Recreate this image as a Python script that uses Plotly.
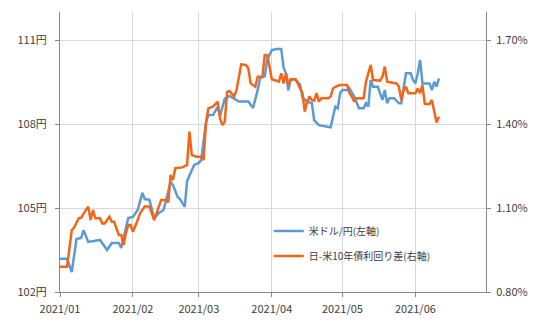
import plotly.graph_objects as go

usd_dates = ["2021-01-01","2021-01-04","2021-01-06","2021-01-08","2021-01-10","2021-01-11","2021-01-13","2021-01-18","2021-01-21","2021-01-23",
             "2021-01-26","2021-01-27","2021-01-30","2021-02-01","2021-02-03","2021-02-05","2021-02-06","2021-02-08","2021-02-10","2021-02-12",
             "2021-02-14","2021-02-17","2021-02-18","2021-02-20","2021-02-21","2021-02-23","2021-02-24","2021-02-27","2021-03-01","2021-03-02",
             "2021-03-04","2021-03-05","2021-03-07","2021-03-09","2021-03-10","2021-03-12","2021-03-14","2021-03-18","2021-03-22","2021-03-24",
             "2021-03-26","2021-03-27","2021-03-29","2021-03-30","2021-04-01","2021-04-03","2021-04-05","2021-04-06","2021-04-07","2021-04-08",
             "2021-04-09","2021-04-11","2021-04-13","2021-04-14","2021-04-16","2021-04-18","2021-04-19","2021-04-21","2021-04-23","2021-04-26",
             "2021-04-27","2021-04-28","2021-04-29","2021-04-30","2021-05-01","2021-05-03","2021-05-04","2021-05-05","2021-05-06","2021-05-08",
             "2021-05-10","2021-05-11","2021-05-12","2021-05-13","2021-05-14","2021-05-16","2021-05-17","2021-05-18","2021-05-19","2021-05-20",
             "2021-05-21","2021-05-23","2021-05-25","2021-05-26","2021-05-28","2021-05-30","2021-05-31","2021-06-01","2021-06-02","2021-06-03",
             "2021-06-04","2021-06-07","2021-06-08","2021-06-09","2021-06-10","2021-06-11"]
usd_jpy = [103.19,103.19,102.71,103.89,103.93,104.21,103.79,103.86,103.50,103.75,
           103.75,103.57,104.64,104.68,104.93,105.54,105.32,105.29,104.64,104.82,
           104.93,105.93,105.82,105.39,105.32,105.04,105.96,106.54,106.61,106.71,
           108.04,108.32,108.32,108.61,108.30,108.90,109.00,108.80,108.80,108.57,
           109.21,109.64,109.70,110.29,110.64,110.68,110.68,110.00,109.82,109.20,
           109.57,109.60,109.40,108.96,108.79,108.75,108.14,107.96,107.93,107.88,
           108.26,108.62,108.56,109.10,109.21,109.21,109.27,109.10,108.98,108.56,
           108.56,108.74,108.62,109.57,109.33,109.33,109.10,108.86,109.21,108.74,
           108.92,108.92,108.74,108.74,109.81,109.81,109.57,109.45,109.81,110.29,
           109.45,109.45,109.21,109.51,109.33,109.63]

spr_dates = ["2021-01-01","2021-01-04","2021-01-06","2021-01-07","2021-01-09","2021-01-10","2021-01-12","2021-01-13","2021-01-14","2021-01-15",
             "2021-01-16","2021-01-18","2021-01-19","2021-01-20","2021-01-22","2021-01-23","2021-01-24","2021-01-26","2021-01-27","2021-01-28",
             "2021-01-29","2021-01-30","2021-01-31","2021-02-01","2021-02-03","2021-02-04","2021-02-06","2021-02-08","2021-02-09","2021-02-10",
             "2021-02-11","2021-02-13","2021-02-15","2021-02-16","2021-02-17","2021-02-18","2021-02-19","2021-02-22","2021-02-24","2021-02-25",
             "2021-02-26","2021-02-28","2021-03-02","2021-03-03","2021-03-04","2021-03-05","2021-03-07","2021-03-09","2021-03-10","2021-03-11",
             "2021-03-12","2021-03-13","2021-03-14","2021-03-16","2021-03-17","2021-03-19","2021-03-21","2021-03-22","2021-03-23","2021-03-25",
             "2021-03-26","2021-03-28","2021-03-29","2021-03-30","2021-03-31","2021-04-01","2021-04-02","2021-04-04","2021-04-05","2021-04-06",
             "2021-04-07","2021-04-08","2021-04-09","2021-04-11","2021-04-12","2021-04-13","2021-04-14","2021-04-15","2021-04-16","2021-04-17",
             "2021-04-18","2021-04-19","2021-04-20","2021-04-21","2021-04-22","2021-04-25","2021-04-26","2021-04-27","2021-04-28","2021-04-30",
             "2021-05-03","2021-05-04","2021-05-05","2021-05-06","2021-05-07","2021-05-10","2021-05-11","2021-05-13","2021-05-14","2021-05-17",
             "2021-05-18","2021-05-19","2021-05-20","2021-05-24","2021-05-25","2021-05-26","2021-05-27","2021-05-28","2021-05-29","2021-06-01",
             "2021-06-02","2021-06-03","2021-06-04","2021-06-05","2021-06-07","2021-06-08","2021-06-09","2021-06-10","2021-06-11"]
spread = [0.890,0.890,1.021,1.030,1.064,1.065,1.093,1.105,1.057,1.093,
          1.063,1.063,1.045,1.045,1.069,1.051,1.051,1.004,1.004,0.968,
          1.010,1.039,1.039,1.015,1.057,1.081,1.105,1.105,1.081,1.057,
          1.081,1.129,1.129,1.120,1.218,1.200,1.242,1.245,1.254,1.373,
          1.289,1.283,1.283,1.271,1.402,1.456,1.462,1.480,1.420,1.396,
          1.408,1.515,1.518,1.498,1.521,1.613,1.611,1.599,1.545,1.533,
          1.569,1.569,1.646,1.646,1.605,1.560,1.557,1.551,1.581,1.545,
          1.581,1.539,1.560,1.560,1.545,1.527,1.510,1.444,1.480,1.498,
          1.486,1.483,1.510,1.480,1.492,1.492,1.498,1.527,1.533,1.539,
          1.539,1.510,1.498,1.480,1.492,1.492,1.551,1.611,1.557,1.555,
          1.569,1.605,1.551,1.545,1.533,1.486,1.520,1.533,1.510,1.510,
          1.527,1.510,1.539,1.471,1.471,1.486,1.444,1.405,1.426]

month_ticks = ["2021-01-01","2021-02-01","2021-03-01","2021-04-01","2021-05-01","2021-06-01"]
month_labels = ["2021/01","2021/02","2021/03","2021/04","2021/05","2021/06"]
left_ticks = [102, 105, 108, 111]
left_labels = ["102円", "105円", "108円", "111円"]
right_ticks = [0.8, 1.1, 1.4, 1.7]
right_labels = ["0.80%", "1.10%", "1.40%", "1.70%"]

FONT = "Noto Sans CJK JP"
BLUE = "#5B9BD5"
ORANGE = "#F2661A"

fig = go.Figure()
fig.add_trace(go.Scatter(x=usd_dates, y=usd_jpy, mode="lines", name="米ドル/円(左軸)",
                         line=dict(color=BLUE, width=2.5), legendgroup="a"))
fig.add_trace(go.Scatter(x=spr_dates, y=spread, mode="lines", name="日-米10年債利回り差(右軸)",
                         line=dict(color=ORANGE, width=2.5), yaxis="y2", legendgroup="b"))

fig.update_layout(
    width=540, height=324,
    margin=dict(l=60, r=54, t=12, b=32),
    paper_bgcolor="white", plot_bgcolor="white",
    font=dict(family=FONT, size=11, color="#404040"),
    showlegend=True,
    legend=dict(x=0.49, y=0.27, xanchor="left", yanchor="top", bgcolor="rgba(0,0,0,0)",
                font=dict(size=10, color="#404040"), tracegroupgap=6, traceorder="grouped"),
    xaxis=dict(type="date", range=["2021-01-01", "2021-07-01"],
               tickvals=month_ticks, ticktext=month_labels, automargin=False,
               showgrid=True, gridcolor="#d9d9d9", gridwidth=1,
               showline=True, linecolor="#888888", linewidth=1,
               ticks="outside", ticklen=4, tickcolor="#888888", ticklabelstandoff=3,
               tickfont=dict(size=11, color="#404040"), zeroline=False),
    yaxis=dict(range=[102, 112], tickvals=left_ticks, ticktext=left_labels, automargin=False,
               showgrid=True, gridcolor="#d9d9d9", gridwidth=1,
               showline=True, linecolor="#888888", linewidth=1,
               ticks="outside", ticklen=4, tickcolor="#888888", ticklabelstandoff=6,
               tickfont=dict(size=11, color="#404040"), zeroline=False),
    yaxis2=dict(range=[0.8, 1.8], tickvals=right_ticks, ticktext=right_labels, automargin=False,
                overlaying="y", side="right", showgrid=False,
                showline=True, linecolor="#888888", linewidth=1,
                ticks="outside", ticklen=4, tickcolor="#888888", ticklabelstandoff=3,
                tickfont=dict(size=11, color="#404040"), zeroline=False),
)

fig.write_html("out.html")
